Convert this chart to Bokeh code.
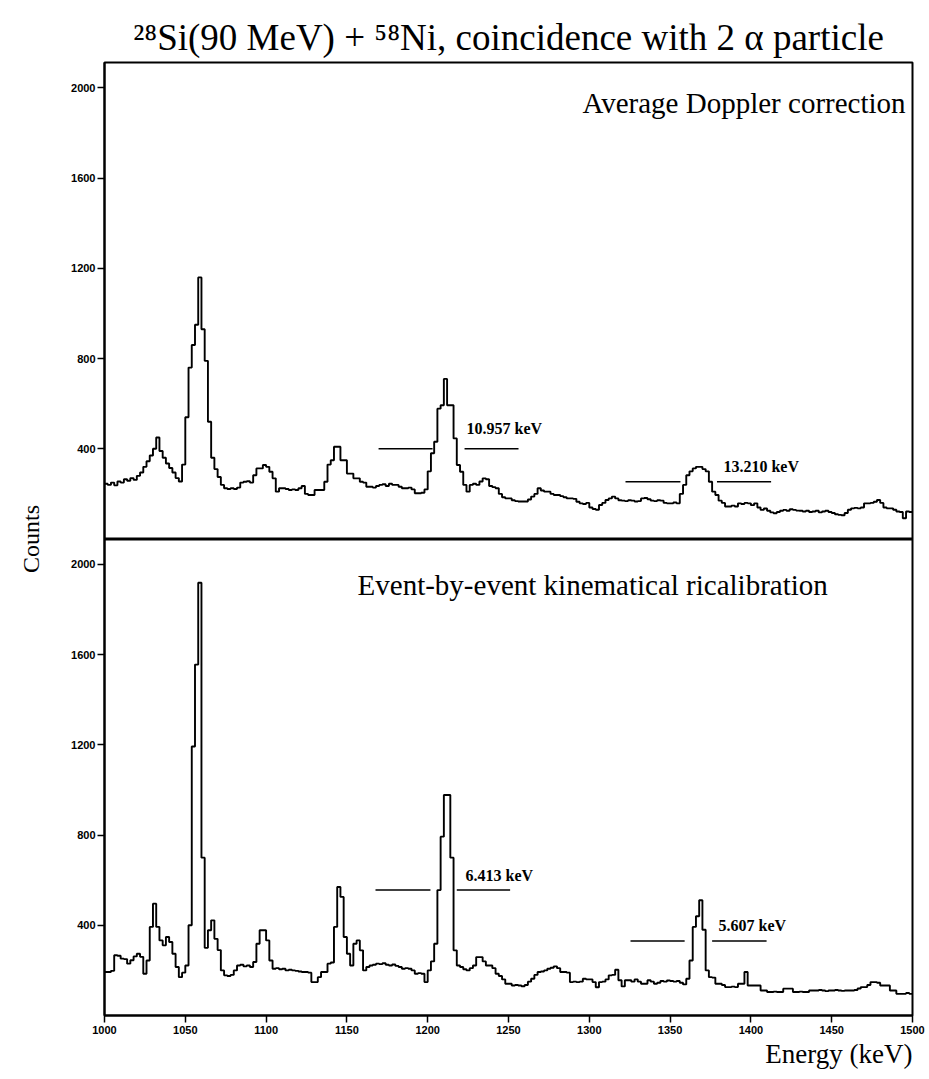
from bokeh.plotting import figure
from bokeh.models import Range1d, Span, Label, FixedTicker, ColumnDataSource, Title
from bokeh.embed import file_html
from bokeh.resources import INLINE

# ---------------- data ----------------
energy_start = 1000          # keV, first bin edge
energy_stop = 1500           # keV, last bin edge
bin_width = 2                # keV

# Top panel: average Doppler correction (counts per 2 keV bin, 1000..1498)
avg_doppler_counts = [
    245, 240, 250, 238, 255, 250, 265, 258, 270, 262,
    280, 295, 320, 345, 370, 400, 450, 390, 360, 335,
    315, 295, 270, 255, 330, 540, 760, 860, 950, 1160,
    930, 790, 520, 360, 310, 275, 240, 225, 222, 225,
    222, 228, 250, 254, 256, 250, 283, 313, 313, 328,
    320, 298, 269, 210, 225, 225, 222, 217, 220, 217,
    225, 235, 200, 195, 195, 217, 217, 217, 254, 330,
    349, 409, 409, 349, 349, 290, 290, 269, 269, 254,
    250, 232, 232, 228, 235, 240, 243, 235, 245, 240,
    240, 232, 225, 225, 228, 220, 203, 203, 205, 220,
    300, 380, 431, 578, 593, 710, 593, 593, 446, 328,
    298, 240, 210, 240, 245, 240, 255, 269, 265, 235,
    230, 225, 200, 185, 180, 180, 172, 168, 166, 166,
    166, 175, 188, 200, 225, 215, 210, 210, 200, 195,
    195, 190, 185, 180, 180, 178, 165, 158, 155, 160,
    140, 133, 130, 151, 160, 173, 180, 188, 180, 172,
    170, 168, 172, 170, 166, 168, 180, 182, 176, 170,
    168, 172, 170, 160, 158, 158, 162, 158, 200, 240,
    283, 300, 313, 320, 320, 310, 300, 254, 210, 195,
    170, 160, 144, 144, 148, 144, 158, 155, 160, 158,
    150, 158, 140, 129, 135, 125, 118, 114, 120, 125,
    129, 125, 132, 129, 126, 125, 122, 125, 120, 122,
    125, 118, 122, 125, 120, 115, 110, 107, 105, 115,
    130, 136, 138, 136, 140, 158, 158, 160, 165, 173,
    160, 140, 136, 136, 130, 122, 120, 92, 122, 120,
]

# Bottom panel: event-by-event kinematical ricalibration
event_by_event_counts = [
    193, 193, 198, 267, 265, 252, 250, 230, 245, 262,
    274, 260, 185, 244, 393, 496, 393, 333, 311, 348,
    326, 274, 215, 170, 190, 222, 400, 1193, 1556, 1919,
    700, 300, 378, 422, 340, 290, 200, 178, 175, 180,
    200, 222, 225, 218, 222, 215, 237, 318, 378, 378,
    333, 244, 207, 210, 205, 207, 200, 203, 200, 198,
    195, 193, 193, 190, 148, 148, 170, 193, 193, 230,
    235, 393, 570, 526, 348, 274, 222, 318, 333, 289,
    200, 215, 222, 225, 230, 228, 232, 225, 222, 226,
    220, 215, 207, 210, 207, 200, 185, 188, 185, 148,
    200, 240, 318, 556, 793, 978, 978, 700, 289, 222,
    215, 205, 200, 210, 222, 259, 259, 240, 222, 222,
    210, 185, 175, 160, 141, 141, 133, 135, 133, 130,
    135, 150, 163, 180, 193, 195, 200, 207, 212, 218,
    210, 193, 193, 190, 148, 150, 148, 150, 163, 160,
    160, 148, 125, 148, 150, 160, 178, 180, 203, 156,
    129, 156, 156, 150, 160, 150, 141, 141, 156, 150,
    141, 145, 153, 150, 155, 153, 150, 153, 145, 138,
    163, 244, 393, 440, 511, 380, 200, 170, 168, 141,
    141, 135, 126, 126, 128, 126, 141, 141, 193, 133,
    133, 133, 133, 111, 111, 104, 104, 106, 104, 104,
    119, 119, 119, 104, 104, 106, 104, 104, 111, 111,
    111, 113, 111, 108, 111, 111, 113, 111, 109, 111,
    111, 111, 113, 120, 126, 126, 135, 148, 148, 145,
    133, 133, 133, 111, 111, 96, 96, 96, 100, 96,
]

y_tick_values = [400, 800, 1200, 1600, 2000]
x_tick_values = [1000, 1050, 1100, 1150, 1200, 1250, 1300, 1350, 1400, 1450, 1500]
panel_max = 2113             # counts at the top edge of each panel

# FWHM markers (keV from-to, counts level) and their labels
avg_fwhm_x0 = [1169.6, 1222.8, 1322.4, 1379.0]
avg_fwhm_x1 = [1203.0, 1256.2, 1356.4, 1412.5]
avg_fwhm_y = [400, 400, 254, 254]
avg_fwhm_text = ["10.957 keV", "13.210 keV"]
avg_fwhm_tx = [1224.0, 1383.0]
avg_fwhm_ty = [490, 322]

ebe_fwhm_x0 = [1167.7, 1218.0, 1325.5, 1376.0]
ebe_fwhm_x1 = [1201.7, 1251.0, 1359.0, 1409.7]
ebe_fwhm_y = [556, 556, 330, 330]
ebe_fwhm_text = ["6.413 keV", "5.607 keV"]
ebe_fwhm_tx = [1223.4, 1380.0]
ebe_fwhm_ty = [622, 400]

# ---------------- build sources ----------------
n = len(avg_doppler_counts)
edges = [energy_start + bin_width * i for i in range(n + 1)]
top_src = ColumnDataSource(dict(x=edges, y=avg_doppler_counts + [avg_doppler_counts[-1]]))
bot_src = ColumnDataSource(dict(x=edges, y=event_by_event_counts + [event_by_event_counts[-1]]))

SERIF = "Liberation Serif"
INK = "black"

p = figure(width=929, height=1079,
           x_range=Range1d(energy_start, energy_stop),
           y_range=Range1d(0, 2 * panel_max),
           output_backend="svg", toolbar_location=None,
           min_border_left=104, min_border_right=17,
           min_border_top=62, min_border_bottom=64)
p.extra_y_ranges = {"top": Range1d(-panel_max, panel_max)}

p.background_fill_color = "white"
p.border_fill_color = "white"
p.grid.visible = False
p.outline_line_color = INK
p.outline_line_width = 2

# title
p.title.text = "\u00b2\u2078Si(90 MeV) + \u2075\u2078Ni, coincidence with 2 \u03b1 particle"
p.title.text_font = SERIF
p.title.text_font_size = "37px"
p.title.text_font_style = "normal"
p.title.text_color = INK
p.title.align = "center"
p.title.vertical_align = "top"
p.title.offset = 9
p.title.standoff = 6

# spectra
p.step("x", "y", source=bot_src, mode="after", line_color=INK, line_width=1.9)
p.step("x", "y", source=top_src, mode="after", line_color=INK, line_width=1.9,
       y_range_name="top")

# thick separator between panels
p.add_layout(Span(location=0, dimension="width", y_range_name="top",
                  line_color=INK, line_width=3))

# FWHM bars
p.segment(x0=avg_fwhm_x0, x1=avg_fwhm_x1, y0=avg_fwhm_y, y1=avg_fwhm_y,
          line_color=INK, line_width=1.5, y_range_name="top")
p.segment(x0=ebe_fwhm_x0, x1=ebe_fwhm_x1, y0=ebe_fwhm_y, y1=ebe_fwhm_y,
          line_color=INK, line_width=1.5)

for t, x, y in zip(avg_fwhm_text, avg_fwhm_tx, avg_fwhm_ty):
    p.add_layout(Label(x=x, y=y, text=t, y_range_name="top", text_font=SERIF,
                       text_font_size="16px", text_font_style="bold", text_color=INK,
                       text_baseline="middle", text_align="left"))
for t, x, y in zip(ebe_fwhm_text, ebe_fwhm_tx, ebe_fwhm_ty):
    p.add_layout(Label(x=x, y=y, text=t, text_font=SERIF,
                       text_font_size="16px", text_font_style="bold", text_color=INK,
                       text_baseline="middle", text_align="left"))

# panel captions
p.add_layout(Label(x=1495.7, y=1933, y_range_name="top",
                   text="Average Doppler correction", text_font=SERIF, text_color=INK,
                   text_font_size="29px", text_align="right", text_baseline="middle"))
p.add_layout(Label(x=1156.6, y=1911,
                   text="Event-by-event kinematical ricalibration", text_font=SERIF,
                   text_color=INK,
                   text_font_size="29px", text_align="left", text_baseline="middle"))

# x axis label at the lower right
p.add_layout(Title(text="Energy (keV)", align="right", text_font=SERIF, text_color=INK,
                   text_font_size="27px", text_font_style="normal", standoff=0), "below")

# axes
xa = p.xaxis[0]
xa.ticker = FixedTicker(ticks=x_tick_values)
xa.axis_line_width = 2
xa.axis_line_color = INK
xa.major_tick_line_width = 1.5
xa.major_tick_line_color = INK
xa.major_tick_out = 7
xa.major_tick_in = 0
xa.minor_tick_line_color = None
xa.major_label_text_font = "Liberation Sans"
xa.major_label_text_font_size = "11px"
xa.major_label_text_font_style = "bold"
xa.major_label_text_color = INK
xa.major_label_standoff = 3

ya = p.yaxis[0]
all_ticks = y_tick_values + [panel_max + v for v in y_tick_values]
ya.ticker = FixedTicker(ticks=all_ticks)
overrides = {v: str(v) for v in y_tick_values}
overrides.update({panel_max + v: str(v) for v in y_tick_values})
ya.major_label_overrides = overrides
ya.axis_line_width = 2
ya.axis_line_color = INK
ya.major_tick_line_width = 1.5
ya.major_tick_line_color = INK
ya.major_tick_out = 7
ya.major_tick_in = 0
ya.minor_tick_line_color = None
ya.major_label_text_font = "Liberation Sans"
ya.major_label_text_font_size = "11px"
ya.major_label_text_font_style = "bold"
ya.major_label_text_color = INK
ya.major_label_standoff = 2
ya.axis_label = "Counts"
ya.axis_label_text_font = SERIF
ya.axis_label_text_font_size = "24px"
ya.axis_label_text_font_style = "normal"
ya.axis_label_text_color = INK
ya.axis_label_standoff = 24

open("out.html", "w").write(file_html(p, INLINE))
